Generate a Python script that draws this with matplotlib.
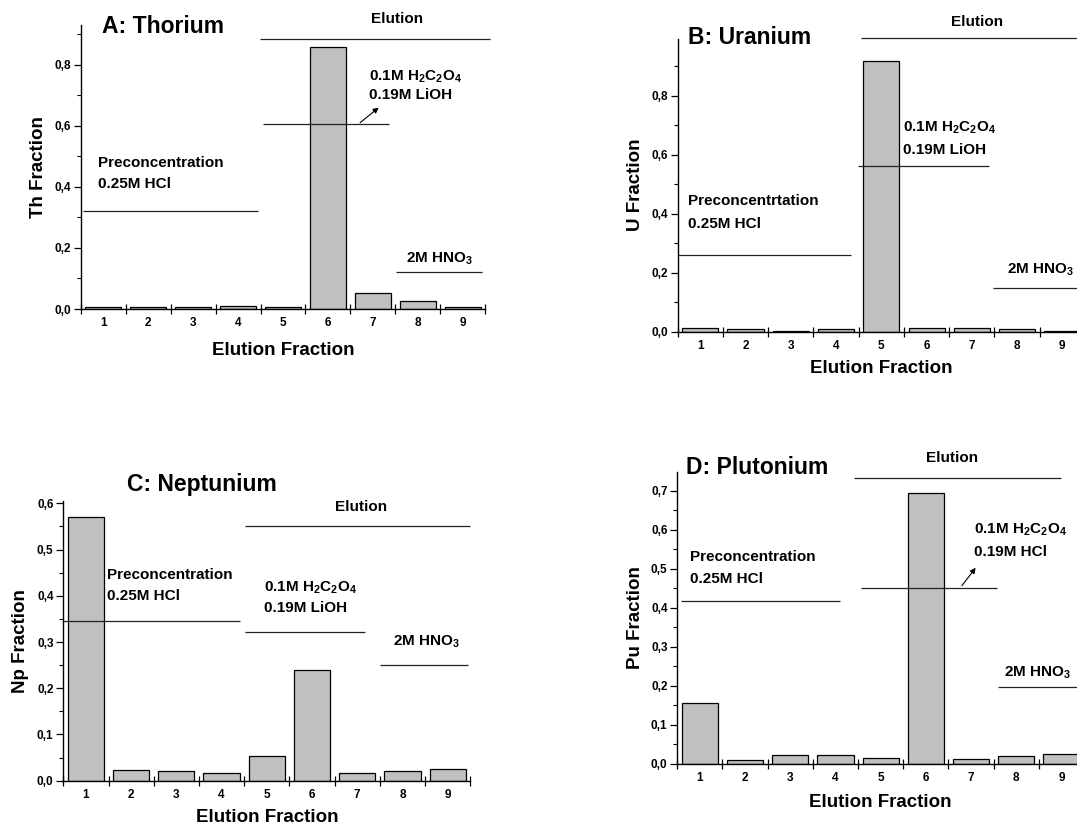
import matplotlib
matplotlib.use("Agg")
import matplotlib.pyplot as plt
from matplotlib.ticker import FuncFormatter, MultipleLocator, FixedLocator

plt.rcParams['font.family'] = ['Liberation Sans', 'DejaVu Sans']
plt.rcParams['font.weight'] = 'bold'
plt.rcParams['mathtext.fontset'] = 'custom'
plt.rcParams['mathtext.rm'] = 'Liberation Sans:bold'
plt.rcParams['mathtext.bf'] = 'Liberation Sans:bold'
plt.rcParams['mathtext.default'] = 'bf'

# ---------------- data ----------------
fractions = [1, 2, 3, 4, 5, 6, 7, 8, 9]
th_values = [0.008, 0.008, 0.008, 0.011, 0.005, 0.860, 0.053, 0.027, 0.007]
u_values = [0.013, 0.007, 0.002, 0.007, 0.917, 0.012, 0.013, 0.007, 0.002]
np_values = [0.570, 0.023, 0.020, 0.017, 0.053, 0.239, 0.017, 0.022, 0.026]
pu_values = [0.157, 0.010, 0.024, 0.024, 0.016, 0.693, 0.013, 0.020, 0.026]

titles = ["A: Thorium", "B: Uranium", "C: Neptunium", "D: Plutonium"]
ylabels = ["Th Fraction", "U Fraction", "Np Fraction", "Pu Fraction"]
oxalate = "0.1M H$_2$C$_2$O$_4$"
hno3 = "2M HNO$_3$"

W, H = 1077, 826
fig = plt.figure(figsize=(W / 100, H / 100), dpi=100)
fig.patch.set_facecolor('white')

LINE = dict(color='#222222', lw=0.9, clip_on=False, solid_capstyle='butt')
TXT = dict(fontsize=11, fontweight='bold', va='center', ha='left', clip_on=False)


def make_axes(l, r, t, b):
    return fig.add_axes([l / W, 1 - b / H, (r - l) / W, (b - t) / H])


def setup(ax, values, ytop, ystep, title, ylabel, title_xy, ylab_x, xlab_pad):
    ax.bar(fractions, values, width=0.8, color='#c0c0c0', edgecolor='black', linewidth=0.9)
    ax.set_xlim(0.5, 9.5)
    ax.set_ylim(0, ytop)
    for s in ['top', 'right']:
        ax.spines[s].set_visible(False)
    for s in ['left', 'bottom']:
        ax.spines[s].set_linewidth(1.0)
    ax.xaxis.set_major_locator(FixedLocator(fractions))
    ax.xaxis.set_minor_locator(FixedLocator([i + 0.5 for i in range(0, 10)]))
    ax.tick_params(axis='x', which='major', length=0, pad=6, labelsize=8.5)
    ax.tick_params(axis='x', which='minor', length=7, width=0.9, direction='inout')
    ax.yaxis.set_major_locator(MultipleLocator(ystep))
    ax.yaxis.set_minor_locator(MultipleLocator(ystep / 2))
    ax.tick_params(axis='y', which='major', length=5, width=0.9, direction='out', labelsize=8.5, pad=2)
    ax.tick_params(axis='y', which='minor', length=3, width=0.8, direction='out')
    ax.yaxis.set_major_formatter(FuncFormatter(lambda v, p: f"{v:.1f}".replace('.', ',')))
    for lab in ax.get_xticklabels() + ax.get_yticklabels():
        lab.set_fontweight('bold')
    ax.set_xlabel("Elution Fraction", fontsize=13.5, fontweight='bold', labelpad=xlab_pad)
    ax.set_ylabel(ylabel, fontsize=13.5, fontweight='bold')
    ax.yaxis.set_label_coords(ylab_x, 0.5)
    ax.text(title_xy[0], title_xy[1], title, fontsize=16.5, fontweight='bold',
            ha='left', va='center', clip_on=False)


# ---------------- A: Thorium ----------------
axA = make_axes(81, 485, 25, 309)
setup(axA, th_values, 0.931, 0.2, titles[0], ylabels[0], (0.96, 0.926), -0.085, 9)
axA.plot([4.49, 9.61], [0.886, 0.886], **LINE)
axA.text(7.54, 0.95, "Elution", **dict(TXT, ha='center'))
axA.plot([0.54, 4.44], [0.32, 0.32], **LINE)
axA.text(0.88, 0.48, "Preconcentration", **TXT)
axA.text(0.88, 0.41, "0.25M HCl", **TXT)
axA.plot([4.55, 7.36], [0.605, 0.605], **LINE)
axA.annotate('', xy=(7.18, 0.666), xytext=(6.67, 0.605),
             arrowprops=dict(arrowstyle='-|>', color='black', lw=0.8, mutation_scale=8))
axA.text(6.91, 0.76, oxalate, **TXT)
axA.text(6.91, 0.70, "0.19M LiOH", **TXT)
axA.plot([7.52, 9.43], [0.12, 0.12], **LINE)
axA.text(7.74, 0.165, hno3, **TXT)

# ---------------- B: Uranium ----------------
axB = make_axes(677.7, 1085, 38.7, 331.5)
setup(axB, u_values, 0.993, 0.2, titles[1], ylabels[1], (0.73, 0.997), -0.082, 6)
axB.plot([4.54, 9.6], [0.995, 0.995], **LINE)
axB.text(7.11, 1.05, "Elution", **dict(TXT, ha='center'))
axB.plot([0.5, 4.33], [0.26, 0.26], **LINE)
axB.text(0.73, 0.443, "Preconcentrtation", **TXT)
axB.text(0.73, 0.364, "0.25M HCl", **TXT)
axB.plot([4.49, 7.38], [0.562, 0.562], **LINE)
axB.text(5.47, 0.69, oxalate, **TXT)
axB.text(5.47, 0.615, "0.19M LiOH", **TXT)
axB.plot([7.47, 9.6], [0.148, 0.148], **LINE)
axB.text(7.78, 0.21, hno3, **TXT)

# ---------------- C: Neptunium ----------------
axC = make_axes(63.3, 470.3, 501, 780.7)
setup(axC, np_values, 0.605, 0.1, titles[2], ylabels[2], (1.90, 0.641), -0.085, 6)
axC.plot([4.52, 9.5], [0.551, 0.551], **LINE)
axC.text(7.08, 0.593, "Elution", **dict(TXT, ha='center'))
axC.plot([0.5, 4.41], [0.345, 0.345], **LINE)
axC.text(1.46, 0.446, "Preconcentration", **TXT)
axC.text(1.46, 0.40, "0.25M HCl", **TXT)
axC.plot([4.52, 7.18], [0.321, 0.321], **LINE)
axC.text(4.94, 0.418, oxalate, **TXT)
axC.text(4.94, 0.373, "0.19M LiOH", **TXT)
axC.plot([7.51, 9.46], [0.251, 0.251], **LINE)
axC.text(7.78, 0.30, hno3, **TXT)

# ---------------- D: Plutonium ----------------
axD = make_axes(677.3, 1084, 471.5, 764)
setup(axD, pu_values, 0.749, 0.1, titles[3], ylabels[3], (0.70, 0.76), -0.082, 7)
axD.plot([4.42, 9.0], [0.732, 0.732], **LINE)
axD.text(6.59, 0.784, "Elution", **dict(TXT, ha='center'))
axD.plot([0.58, 4.10], [0.4175, 0.4175], **LINE)
axD.text(0.78, 0.531, "Preconcentration", **TXT)
axD.text(0.78, 0.475, "0.25M HCl", **TXT)
axD.plot([4.56, 7.58], [0.451, 0.451], **LINE)
axD.annotate('', xy=(7.14, 0.508), xytext=(6.76, 0.451),
             arrowprops=dict(arrowstyle='-|>', color='black', lw=0.8, mutation_scale=8))
axD.text(7.06, 0.60, oxalate, **TXT)
axD.text(7.06, 0.543, "0.19M HCl", **TXT)
axD.plot([7.59, 9.6], [0.197, 0.197], **LINE)
axD.text(7.74, 0.233, hno3, **TXT)

fig.savefig("out.png", dpi=100, facecolor='white')
